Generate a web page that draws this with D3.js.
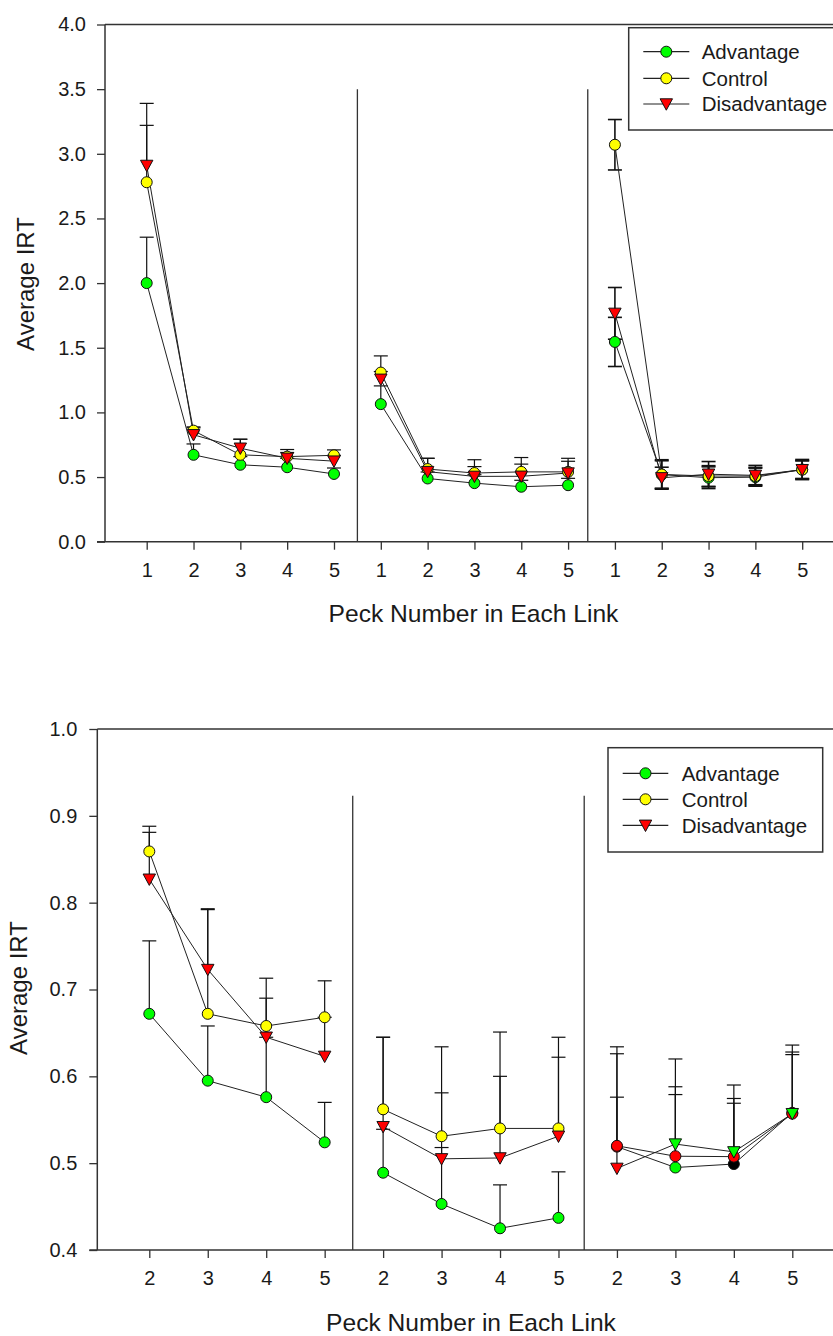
<!DOCTYPE html>
<html>
<head>
<meta charset="utf-8">
<script src="https://cdn.jsdelivr.net/npm/d3@7/dist/d3.min.js"></script>
<style>
  html, body { margin: 0; padding: 0; background: #fff; }
  svg { display: block; }
  text { font-family: "Liberation Sans", Arial, sans-serif; fill: #1a1a1a; }
</style>
</head>
<body>
<svg id="chart" width="833" height="1336"></svg>
<script>
// ---------------- DATA ----------------
const links = ["Link 1", "Link 2", "Link 3"];
const pecks = [1, 2, 3, 4, 5];
const seriesNames = ["Advantage", "Control", "Disadvantage"];

// 15 values each: link 1 pecks 1-5, link 2 pecks 1-5, link 3 pecks 1-5
const advantageMean = [2.00, 0.672, 0.595, 0.576, 0.524, 1.064, 0.489, 0.453, 0.425, 0.437, 1.545, 0.519, 0.495, 0.499, 0.558];
const advantageSE   = [0.355, 0.084, 0.063, 0.069, 0.046, 0.141, 0.050, 0.065, 0.050, 0.053, 0.190, 0.107, 0.084, 0.070, 0.078];
const controlMean   = [2.78, 0.859, 0.672, 0.658, 0.668, 1.308, 0.562, 0.531, 0.540, 0.540, 3.07, 0.520, 0.508, 0.5075, 0.557];
const controlSE     = [0.44, 0.029, 0.120, 0.055, 0.042, 0.129, 0.083, 0.103, 0.111, 0.105, 0.195, 0.114, 0.080, 0.067, 0.071];
const disadvMean    = [2.91, 0.827, 0.723, 0.645, 0.623, 1.256, 0.542, 0.505, 0.506, 0.531, 1.766, 0.494, 0.522, 0.513, 0.557];
const disadvSE      = [0.48, 0.054, 0.070, 0.045, 0.045, 0.060, 0.103, 0.076, 0.094, 0.091, 0.200, 0.082, 0.098, 0.077, 0.068];

const topYTicks = [0.0, 0.5, 1.0, 1.5, 2.0, 2.5, 3.0, 3.5, 4.0];
const bottomYTicks = [0.4, 0.5, 0.6, 0.7, 0.8, 0.9, 1.0];

// ---------------- STYLE ----------------
const colors = { Advantage: "#00ff00", Control: "#ffff00", Disadvantage: "#ff0000" };
const shapes = { Advantage: "circle", Control: "circle", Disadvantage: "triangle" };
// marker fills as they appear in link 3 of the lower (zoomed) chart, pecks 2-5
const lowerLink3Fills = {
  Advantage: ["#ff0000", "#00ff00", "#000000", "#ff0000"],
  Control: ["#ff0000", "#ff0000", "#ff0000", "#ff0000"],
  Disadvantage: ["#ff0000", "#00ff00", "#00ff00", "#00ff00"]
};

const means = { Advantage: advantageMean, Control: controlMean, Disadvantage: disadvMean };
const ses = { Advantage: advantageSE, Control: controlSE, Disadvantage: disadvSE };

const svg = d3.select("#chart");
svg.append("rect").attr("width", 833).attr("height", 1336).attr("fill", "#fff");

const frameColor = "#333";

function drawMarker(g, x, y, shape, fill) {
  if (shape === "circle") {
    g.append("circle").attr("cx", x).attr("cy", y).attr("r", 5.5)
      .attr("fill", fill).attr("stroke", "#111").attr("stroke-width", 1);
  } else {
    const w = 6.2, h = 5.2;
    g.append("path")
      .attr("d", `M${x - w},${y - h}L${x + w},${y - h}L${x},${y + h + 1}Z`)
      .attr("fill", fill).attr("stroke", "#111").attr("stroke-width", 1);
  }
}

function drawChart(cfg) {
  const g = svg.append("g");
  const pts = [];
  links.forEach((lk, li) => {
    pecks.forEach((p, pi) => {
      if (cfg.pecksShown.includes(p)) pts.push({ li, p, di: li * 5 + pi });
    });
  });
  const x = d3.scaleLinear().domain([0, pts.length - 1]).range(cfg.xRange);
  const y = d3.scaleLinear().domain(cfg.yDomain).range(cfg.yRange);
  pts.forEach((d, i) => d.xi = i);

  // frame: top line, left axis, bottom axis
  g.append("line").attr("x1", cfg.axisX).attr("x2", 840).attr("y1", y(cfg.yDomain[1])).attr("y2", y(cfg.yDomain[1]))
    .attr("stroke", frameColor).attr("stroke-width", 1.5);
  g.append("line").attr("x1", cfg.axisX - 8).attr("x2", 840).attr("y1", y(cfg.yDomain[0])).attr("y2", y(cfg.yDomain[0]))
    .attr("stroke", frameColor).attr("stroke-width", 1.5);
  g.append("line").attr("x1", cfg.axisX).attr("x2", cfg.axisX).attr("y1", y(cfg.yDomain[0])).attr("y2", y(cfg.yDomain[1]))
    .attr("stroke", frameColor).attr("stroke-width", 1.5);

  // y axis
  const ya = g.append("g").attr("transform", `translate(${cfg.axisX},0)`)
    .call(d3.axisLeft(y).tickValues(cfg.yTicks).tickFormat(d3.format(".1f")).tickSize(8).tickPadding(cfg.yPad));
  ya.select(".domain").remove();
  ya.selectAll(".tick line").attr("stroke", frameColor).attr("stroke-width", 1.3);
  ya.selectAll(".tick text").attr("font-size", 20).attr("fill", "#1a1a1a")
    .attr("font-family", '"Liberation Sans", Arial, sans-serif');

  // x axis
  const xa = g.append("g").attr("transform", `translate(0,${y(cfg.yDomain[0])})`)
    .call(d3.axisBottom(x).tickValues(pts.map(d => d.xi)).tickFormat(i => pts[i].p).tickSize(8).tickPadding(13));
  xa.select(".domain").remove();
  xa.selectAll(".tick line").attr("stroke", frameColor).attr("stroke-width", 1.3);
  xa.selectAll(".tick text").attr("font-size", 20).attr("fill", "#1a1a1a")
    .attr("font-family", '"Liberation Sans", Arial, sans-serif');

  // separators
  cfg.separators.forEach(s => {
    g.append("line").attr("x1", x(s)).attr("x2", x(s))
      .attr("y1", y(cfg.yDomain[0])).attr("y2", y(cfg.sepTop))
      .attr("stroke", frameColor).attr("stroke-width", 1.3);
  });

  // titles
  g.append("text").attr("transform", `translate(${cfg.yTitle[0]},${cfg.yTitle[1]}) rotate(-90)`)
    .attr("text-anchor", "middle").attr("font-size", 24).text("Average IRT");
  g.append("text").attr("x", cfg.xTitle[0]).attr("y", cfg.xTitle[1])
    .attr("text-anchor", "middle").attr("font-size", 24.6).text("Peck Number in Each Link");

  // error bars
  seriesNames.forEach(s => {
    pts.forEach(d => {
      const m = means[s][d.di], e = ses[s][d.di];
      const both = cfg.bothWays(d.li);
      const yt = y(m + e), yb = both ? y(m - e) : y(m);
      const xx = x(d.xi);
      const sw = both ? 1.6 : 1.2;
      g.append("line").attr("x1", xx).attr("x2", xx).attr("y1", yt).attr("y2", yb)
        .attr("stroke", "#111").attr("stroke-width", sw);
      g.append("line").attr("x1", xx - 7).attr("x2", xx + 7).attr("y1", yt).attr("y2", yt)
        .attr("stroke", "#111").attr("stroke-width", sw);
      if (both) g.append("line").attr("x1", xx - 7).attr("x2", xx + 7).attr("y1", yb).attr("y2", yb)
        .attr("stroke", "#111").attr("stroke-width", sw);
    });
  });

  // lines per link
  const line = d3.line().x(d => x(d.xi)).y(d => d.yv);
  seriesNames.forEach(s => {
    links.forEach((lk, li) => {
      const seg = pts.filter(d => d.li === li).map(d => ({ xi: d.xi, yv: y(means[s][d.di]) }));
      g.append("path").attr("d", line(seg)).attr("fill", "none").attr("stroke", "#222").attr("stroke-width", 1);
    });
  });

  // markers
  seriesNames.forEach(s => {
    pts.forEach(d => {
      let fill = colors[s];
      if (cfg.link3Fills && d.li === 2) fill = cfg.link3Fills[s][cfg.pecksShown.indexOf(d.p)];
      drawMarker(g, x(d.xi), y(means[s][d.di]), shapes[s], fill);
    });
  });

  // legend
  const L = cfg.legend;
  g.append("rect").attr("x", L.box[0]).attr("y", L.box[1]).attr("width", L.box[2]).attr("height", L.box[3])
    .attr("fill", "#fff").attr("stroke", frameColor).attr("stroke-width", 1.5);
  seriesNames.forEach((s, i) => {
    const yy = L.rows[i];
    g.append("line").attr("x1", L.line[0]).attr("x2", L.line[1]).attr("y1", yy).attr("y2", yy)
      .attr("stroke", "#222").attr("stroke-width", 1.2);
    drawMarker(g, (L.line[0] + L.line[1]) / 2, yy, shapes[s], colors[s]);
    g.append("text").attr("x", L.textX).attr("y", yy).attr("dy", "0.36em")
      .attr("font-size", 20.5).text(s);
  });
}

drawChart({
  pecksShown: [1, 2, 3, 4, 5],
  yDomain: [0, 4], yRange: [541.7, 24.5], xRange: [146.7, 802.2],
  yTicks: topYTicks, axisX: 105, yPad: 11,
  separators: [4.5, 9.42], sepTop: 3.5,
  bothWays: li => li === 2,
  yTitle: [34, 284], xTitle: [473.5, 622],
  legend: { box: [628.7, 27.7, 215, 102.3], rows: [51.7, 78.3, 104], line: [643.3, 689.3], textX: 701.7 }
});

drawChart({
  pecksShown: [2, 3, 4, 5],
  yDomain: [0.4, 1.0], yRange: [1250, 729], xRange: [149.3, 792.3],
  yTicks: bottomYTicks, axisX: 97.3, yPad: 12,
  separators: [3.48, 7.44], sepTop: 0.923,
  bothWays: () => false,
  link3Fills: lowerLink3Fills,
  yTitle: [26.5, 988], xTitle: [471, 1330.5],
  legend: { box: [608, 747.7, 214.7, 104.3], rows: [773.3, 799.3, 825.3], line: [622.7, 668.3], textX: 681.7 }
});
</script>
</body>
</html>
